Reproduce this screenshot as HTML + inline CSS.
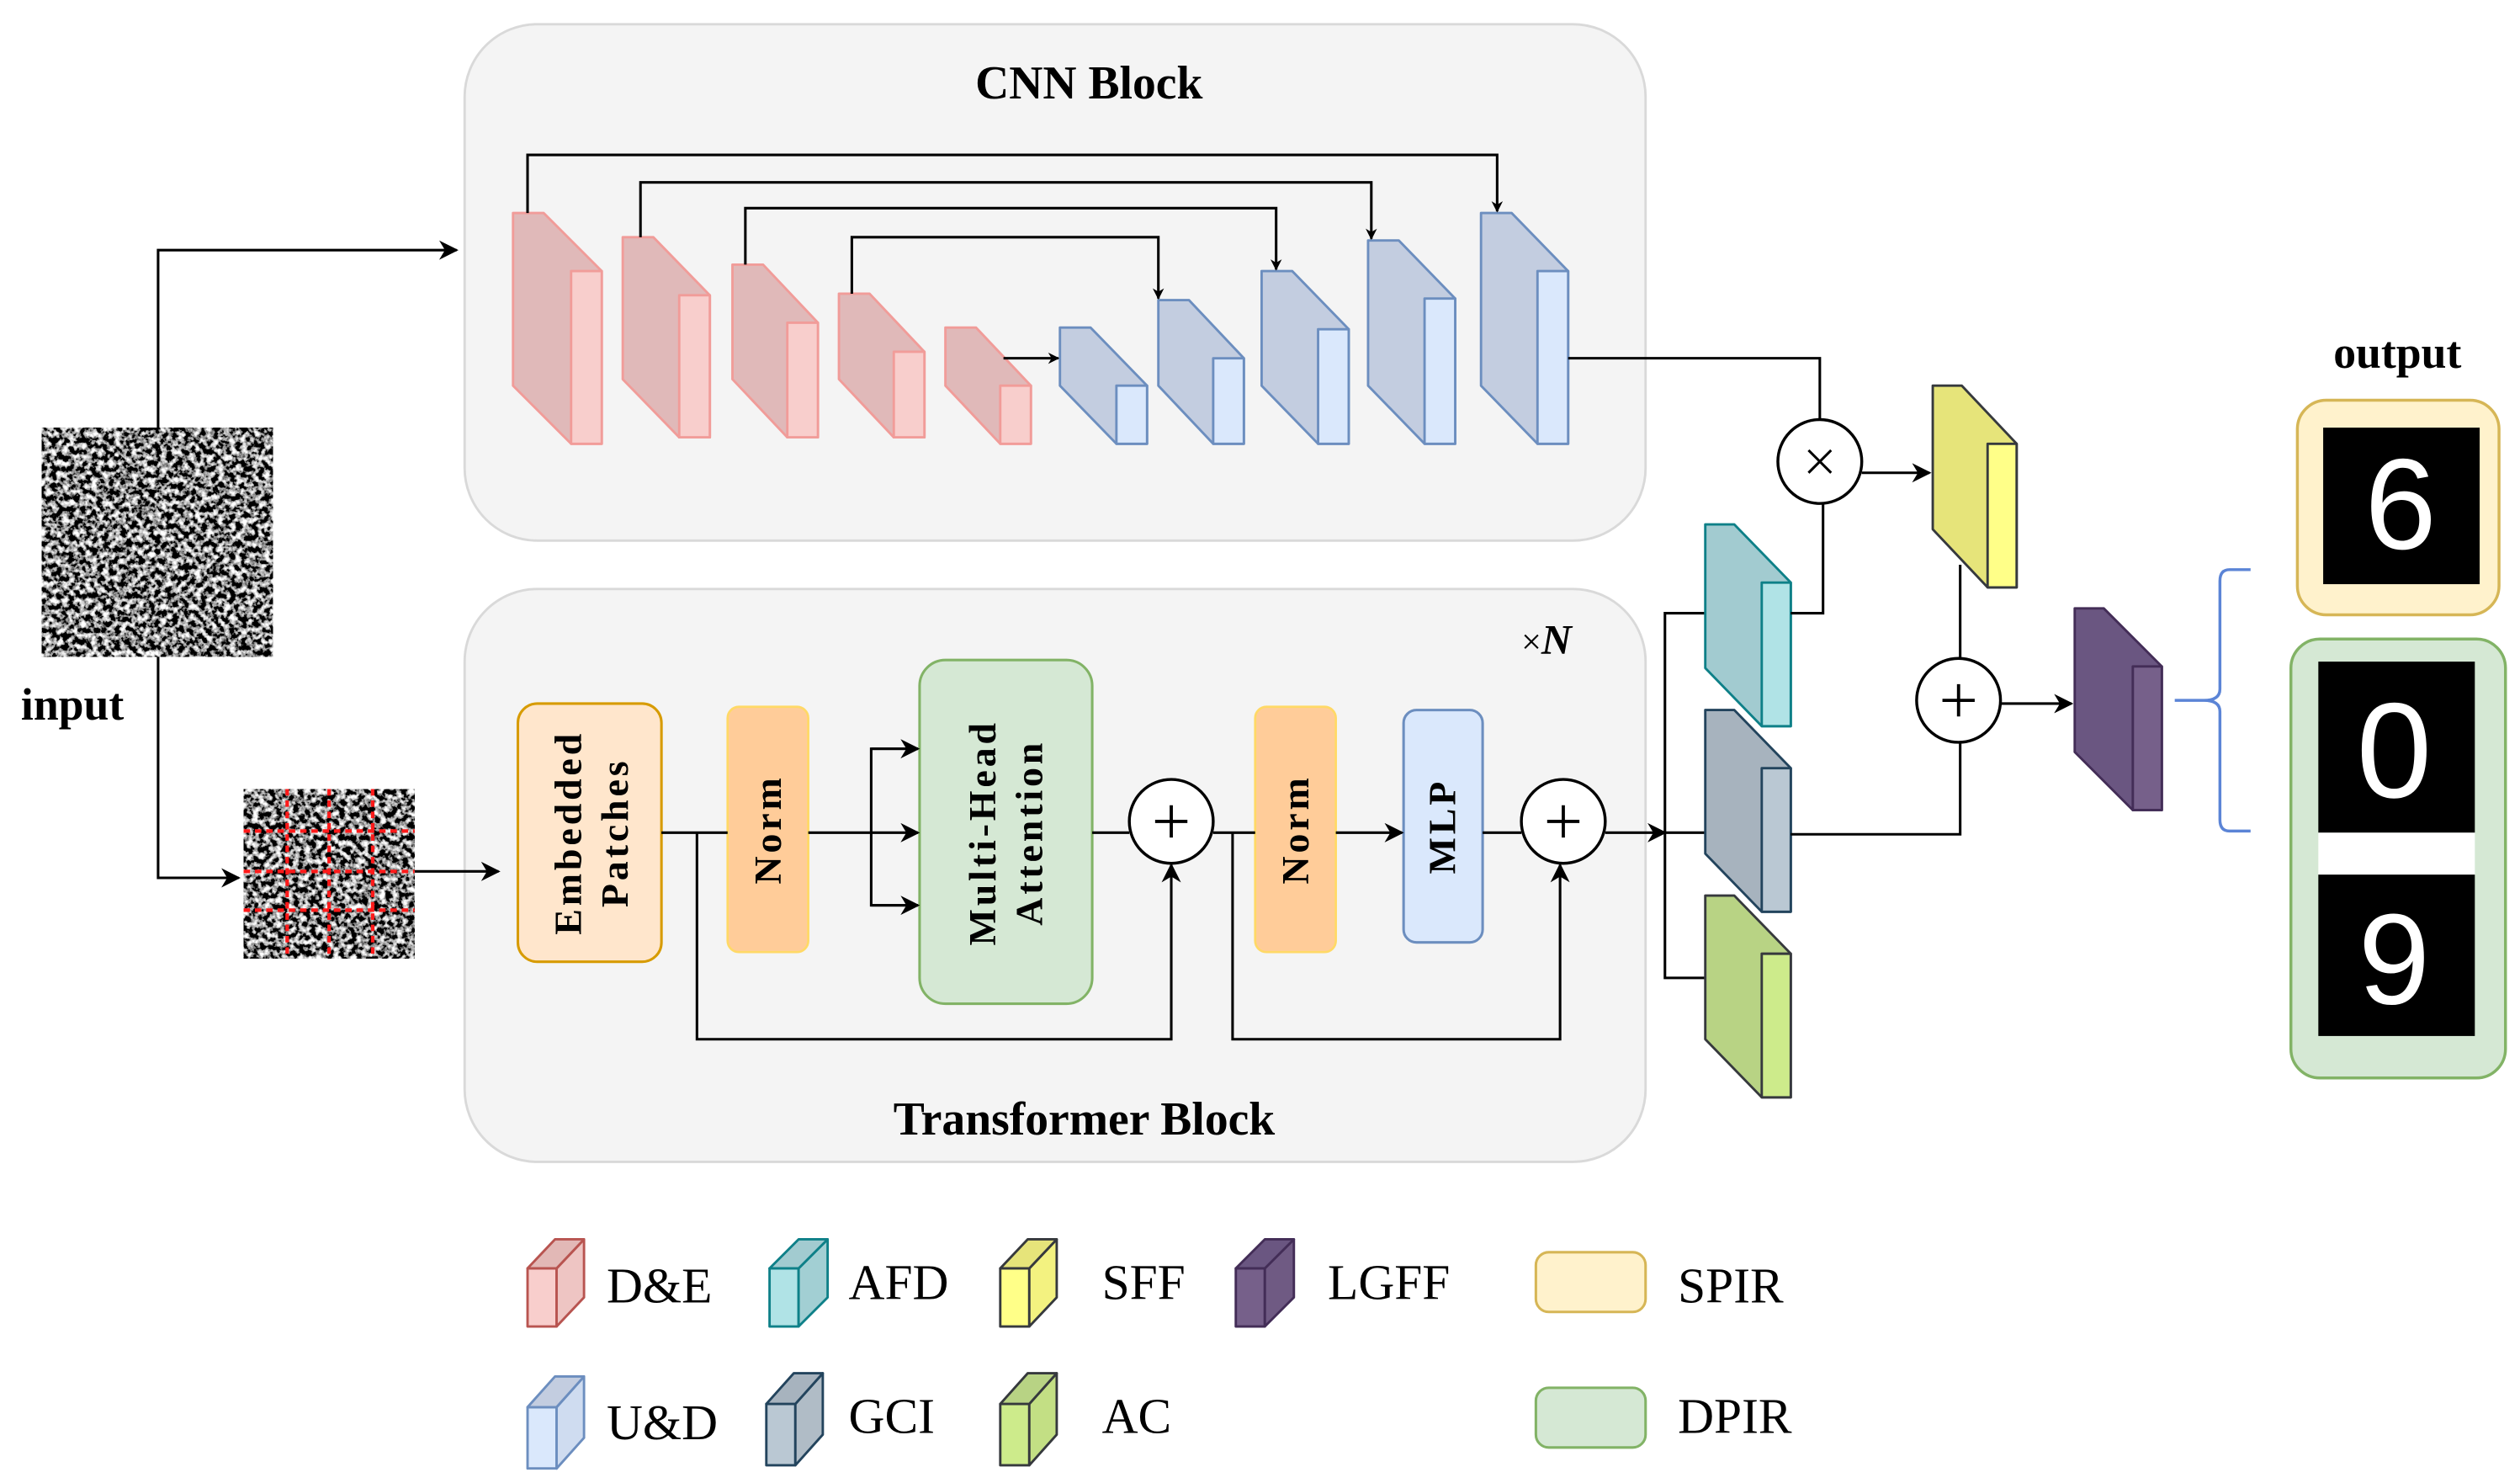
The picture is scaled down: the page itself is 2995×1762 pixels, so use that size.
<!DOCTYPE html>
<html><head><meta charset="utf-8"><style>html,body{margin:0;padding:0;background:#fff}svg{display:block}svg text{font-family:"Liberation Serif","Times New Roman",serif}svg text.sans{font-family:"Liberation Sans",sans-serif}</style></head>
<body>
<svg width="2995" height="1762" viewBox="0 0 1562 919" preserveAspectRatio="none" xmlns="http://www.w3.org/2000/svg">
<defs>
<filter id="noise" x="0" y="0" width="100%" height="100%">
<feTurbulence type="fractalNoise" baseFrequency="0.28" numOctaves="3" seed="7"/>
<feColorMatrix type="matrix" values="3.4 0 0 0 -1.45  3.4 0 0 0 -1.45  3.4 0 0 0 -1.45  0 0 0 0 1"/>
</filter>
<marker id="ar" viewBox="0 0 10 10" refX="9" refY="5" markerWidth="7" markerHeight="7" orient="auto" markerUnits="userSpaceOnUse">
<path d="M0,0 L10,5 L0,10 L3,5 Z" fill="#000"/></marker>
<marker id="arb" viewBox="0 0 10 10" refX="9" refY="5" markerWidth="12" markerHeight="12" orient="auto" markerUnits="userSpaceOnUse">
<path d="M0,0 L10,5 L0,10 L3,5 Z" fill="#000"/></marker>
</defs>

<rect x="288" y="15" width="732" height="320" rx="45" fill="#f4f4f4" stroke="#d9d9d9" stroke-width="1.5"/>
<rect x="288" y="365" width="732" height="355" rx="45" fill="#f4f4f4" stroke="#d9d9d9" stroke-width="1.5"/>
<text x="675" y="61" font-size="29" font-weight="bold" text-anchor="middle">CNN Block</text>
<text x="672" y="703" font-size="29" font-weight="bold" text-anchor="middle">Transformer Block</text>
<text x="943" y="405" font-size="22">×<tspan font-style="italic" font-weight="bold" font-size="26">N</tspan></text>

<rect x="26" y="265" width="143" height="142" filter="url(#noise)"/>
<text x="13" y="446" font-size="28" font-weight="bold">input</text>
<g fill="none" stroke="#000" stroke-width="1.6">
<polyline points="98,265 98,155 283,155" marker-end="url(#arb)"/>
<polyline points="98,407 98,544 148,544" marker-end="url(#arb)"/>
<line x1="257" y1="540" x2="309" y2="540" marker-end="url(#arb)"/>
</g>
<rect x="151" y="489" width="106" height="105" filter="url(#noise)"/>
<g stroke="#ff1a1a" stroke-width="2.2" stroke-dasharray="4,3">
<line x1="151" y1="515" x2="257" y2="515"/><line x1="151" y1="540" x2="257" y2="540"/><line x1="151" y1="564" x2="257" y2="564"/>
<line x1="178" y1="489" x2="178" y2="594"/><line x1="204" y1="489" x2="204" y2="594"/><line x1="231" y1="489" x2="231" y2="594"/>
</g>

<g stroke-width="1.5" stroke-linejoin="round">
<g fill="#e0b9b9" stroke="#f19c99">
<path d="M318,132 L337,132 L373,168 L373,275 L354,275 L318,239 Z"/>
<path d="M386,147 L405,147 L440,183 L440,271 L421,271 L386,235 Z"/>
<path d="M454,164 L473,164 L507,200 L507,271 L488,271 L454,235 Z"/>
<path d="M520,182 L539,182 L573,218 L573,271 L554,271 L520,235 Z"/>
<path d="M586,203 L605,203 L639,239 L639,275 L620,275 L586,239 Z"/>
</g>
<g fill="#f8cecc" stroke="#f19c99">
<rect x="354" y="168" width="19" height="107"/><rect x="421" y="183" width="19" height="88"/>
<rect x="488" y="200" width="19" height="71"/><rect x="554" y="218" width="19" height="53"/>
<rect x="620" y="239" width="19" height="36"/>
</g>
<g fill="#c3cde0" stroke="#6c8ebf">
<path d="M657,203 L676,203 L711,239 L711,275 L692,275 L657,239 Z"/>
<path d="M718,186 L737,186 L771,222 L771,275 L752,275 L718,239 Z"/>
<path d="M782,168 L801,168 L836,204 L836,275 L817,275 L782,239 Z"/>
<path d="M848,149 L867,149 L902,185 L902,275 L883,275 L848,239 Z"/>
<path d="M918,132 L937,132 L972,168 L972,275 L953,275 L918,239 Z"/>
</g>
<g fill="#dae8fc" stroke="#6c8ebf">
<rect x="692" y="239" width="19" height="36"/><rect x="752" y="222" width="19" height="53"/>
<rect x="817" y="204" width="19" height="71"/><rect x="883" y="185" width="19" height="90"/>
<rect x="953" y="168" width="19" height="107"/>
</g>
</g>
<g fill="none" stroke="#000" stroke-width="1.6">
<polyline points="327,132 327,96 928,96 928,131" marker-end="url(#ar)"/>
<polyline points="397,147 397,113 850,113 850,148" marker-end="url(#ar)"/>
<polyline points="462,164 462,129 791,129 791,167" marker-end="url(#ar)"/>
<polyline points="528,182 528,147 718,147 718,185" marker-end="url(#ar)"/>
<line x1="622" y1="222" x2="656" y2="222" marker-end="url(#ar)"/>
<polyline points="972,222 1128,222 1128,260"/>
</g>

<rect x="321" y="436" width="89" height="160" rx="12" fill="#ffe6cc" stroke="#d79b00" stroke-width="1.6"/>
<rect x="451" y="438" width="50" height="152" rx="7" fill="#ffcc99" stroke="#ffd966" stroke-width="1.4"/>
<rect x="570" y="409" width="107" height="213" rx="16" fill="#d5e8d4" stroke="#82b366" stroke-width="1.6"/>
<rect x="778" y="438" width="50" height="152" rx="7" fill="#ffcc99" stroke="#ffd966" stroke-width="1.4"/>
<rect x="870" y="440" width="49" height="144" rx="8" fill="#dae8fc" stroke="#6c8ebf" stroke-width="1.6"/>
<g font-weight="bold" font-size="24" letter-spacing="2" text-anchor="middle">
<text transform="translate(366,516) rotate(-90)"><tspan x="0" y="-6">Embedded</tspan><tspan x="0" y="23">Patches</tspan></text>
<text transform="translate(476,514) rotate(-90)" y="8">Norm</text>
<text transform="translate(623,516) rotate(-90)"><tspan x="0" y="-6">Multi-Head</tspan><tspan x="0" y="23">Attention</tspan></text>
<text transform="translate(803,514) rotate(-90)" y="8">Norm</text>
<text transform="translate(894,512) rotate(-90)" y="8">MLP</text>
</g>
<g fill="none" stroke="#000" stroke-width="1.6">
<line x1="410" y1="516" x2="451" y2="516"/>
<polyline points="432,516 432,644 726,644 726,536" marker-end="url(#arb)"/>
<line x1="501" y1="516" x2="569" y2="516" marker-end="url(#arb)"/>
<polyline points="569,464 540,464 540,561 569,561"/>
<line x1="540" y1="464" x2="569" y2="464" marker-end="url(#arb)"/>
<line x1="540" y1="561" x2="569" y2="561" marker-end="url(#arb)"/>
<line x1="677" y1="516" x2="700" y2="516"/>
<line x1="752" y1="516" x2="778" y2="516"/>
<polyline points="764,516 764,644 967,644 967,536" marker-end="url(#arb)"/>
<line x1="828" y1="516" x2="869" y2="516" marker-end="url(#arb)"/>
<line x1="919" y1="516" x2="943" y2="516"/>
<line x1="995" y1="516" x2="1032" y2="516" marker-end="url(#arb)"/>
<polyline points="1080,380 1032,380 1032,606 1080,606"/>
<line x1="1032" y1="516" x2="1080" y2="516"/>
</g>
<g stroke="#000" stroke-width="1.8" fill="#fff">
<circle cx="726" cy="509" r="26"/><circle cx="969" cy="509" r="26"/>
<circle cx="1128" cy="286" r="26"/><circle cx="1214" cy="434" r="26"/>
</g>
<g stroke="#000" stroke-width="2">
<path d="M716,509 H736 M726,499 V519"/><path d="M959,509 H979 M969,499 V519"/>
<path d="M1204,434 H1224 M1214,424 V444"/>
<path d="M1121,279 L1135,293 M1135,279 L1121,293" stroke-width="1.6"/>
</g>

<g stroke-width="1.5" stroke-linejoin="round">
<path d="M1057,325 L1075,325 L1110,361 L1110,450 L1092,450 L1057,414 Z" fill="#a2cbd0" stroke="#0e8088"/>
<rect x="1092" y="361" width="18" height="89" fill="#b0e3e6" stroke="#0e8088"/>
<path d="M1057,440 L1075,440 L1110,476 L1110,565 L1092,565 L1057,529 Z" fill="#a7b3be" stroke="#23445d"/>
<rect x="1092" y="476" width="18" height="89" fill="#bac8d3" stroke="#23445d"/>
<path d="M1057,555 L1075,555 L1110,591 L1110,680 L1092,680 L1057,644 Z" fill="#b8d384" stroke="#36393d"/>
<rect x="1092" y="591" width="18" height="89" fill="#cdeb8b" stroke="#36393d"/>
<path d="M1198,239 L1216,239 L1250,275 L1250,364 L1232,364 L1198,328 Z" fill="#e6e47a" stroke="#36393d"/>
<rect x="1232" y="275" width="18" height="89" fill="#ffff88" stroke="#36393d"/>
<path d="M1286,377 L1304,377 L1340,413 L1340,502 L1322,502 L1286,466 Z" fill="#6a5681" stroke="#432d57"/>
<rect x="1322" y="413" width="18" height="89" fill="#76608a" stroke="#432d57"/>
</g>
<g fill="none" stroke="#000" stroke-width="1.6">
<line x1="1154" y1="293" x2="1196" y2="293" marker-end="url(#arb)"/>
<polyline points="1110,380 1130,380 1130,312"/>
<polyline points="1110,517 1215,517 1215,460"/>
<line x1="1215" y1="350" x2="1215" y2="408"/>
<line x1="1240" y1="436" x2="1284" y2="436" marker-end="url(#arb)"/>
</g>
<path d="M1395,353 L1382,353 Q1376,353 1376,360 L1376,427 Q1376,434 1366,434 L1348,434 M1366,434 Q1376,434 1376,441 L1376,508 Q1376,515 1382,515 L1395,515" fill="none" stroke="#5b84d6" stroke-width="1.8"/>

<text x="1486" y="228" font-size="28" font-weight="bold" text-anchor="middle">output</text>
<rect x="1424" y="248" width="125" height="133" rx="18" fill="#fff2cc" stroke="#d6b656" stroke-width="1.8"/>
<rect x="1440" y="265" width="97" height="97" fill="#000"/>
<text class="sans" x="1488" y="340" font-size="80" fill="#fff" text-anchor="middle">6</text>
<rect x="1420" y="396" width="133" height="272" rx="18" fill="#d5e8d4" stroke="#82b366" stroke-width="1.8"/>
<rect x="1437" y="410" width="97" height="106" fill="#000"/>
<rect x="1437" y="516" width="97" height="26" fill="#fff"/>
<rect x="1437" y="542" width="97" height="100" fill="#000"/>
<text class="sans" x="1484" y="494" font-size="84" fill="#fff" text-anchor="middle">0</text>
<text class="sans" x="1484" y="622" font-size="80" fill="#fff" text-anchor="middle">9</text>

<g stroke-width="1.5" stroke-linejoin="round">
<g fill="#f8cecc" stroke="#b85450"><rect x="327" y="786" width="18" height="36"/><path d="M345,786 L362,768 L362,804 L345,822 Z" fill="#eec5c3"/><path d="M327,786 L344,768 L362,768 L345,786 Z" fill="#e2b8b6"/></g>
<g fill="#b0e3e6" stroke="#0e8088"><rect x="477" y="786" width="18" height="36"/><path d="M495,786 L513,768 L513,804 L495,822 Z" fill="#a2cfd3"/><path d="M477,786 L495,768 L513,768 L495,786 Z" fill="#a2cbd0"/></g>
<g fill="#ffff88" stroke="#36393d"><rect x="620" y="786" width="18" height="36"/><path d="M638,786 L655,768 L655,804 L638,822 Z" fill="#f3f280"/><path d="M620,786 L637,768 L655,768 L638,786 Z" fill="#e6e47a"/></g>
<g fill="#76608a" stroke="#432d57"><rect x="766" y="786" width="18" height="36"/><path d="M784,786 L802,768 L802,804 L784,822 Z" fill="#6f5a83"/><path d="M766,786 L784,768 L802,768 L784,786 Z" fill="#6a5681"/></g>
<g fill="#dae8fc" stroke="#6c8ebf"><rect x="327" y="872" width="18" height="38"/><path d="M345,872 L362,853 L362,891 L345,910 Z" fill="#cfdcf0"/><path d="M327,872 L344,853 L362,853 L345,872 Z" fill="#c3cde0"/></g>
<g fill="#bac8d3" stroke="#23445d"><rect x="475" y="870" width="18" height="38"/><path d="M493,870 L510,851 L510,889 L493,908 Z" fill="#b0bcc6"/><path d="M475,870 L492,851 L510,851 L493,870 Z" fill="#a7b3be"/></g>
<g fill="#cdeb8b" stroke="#36393d"><rect x="620" y="870" width="18" height="38"/><path d="M638,870 L655,851 L655,889 L638,908 Z" fill="#c3df84"/><path d="M620,870 L637,851 L655,851 L638,870 Z" fill="#b8d384"/></g>
</g>
<rect x="952" y="776" width="68" height="37" rx="8" fill="#fff2cc" stroke="#d6b656" stroke-width="1.6"/>
<rect x="952" y="860" width="68" height="37" rx="8" fill="#d5e8d4" stroke="#82b366" stroke-width="1.6"/>
<g font-size="31">
<text x="376" y="807">D&amp;E</text><text x="526" y="805">AFD</text><text x="683" y="805">SFF</text><text x="823" y="805">LGFF</text><text x="1040" y="807">SPIR</text>
<text x="376" y="892">U&amp;D</text><text x="526" y="888">GCI</text><text x="683" y="888">AC</text><text x="1040" y="888">DPIR</text>
</g>
</svg>
</body></html>
